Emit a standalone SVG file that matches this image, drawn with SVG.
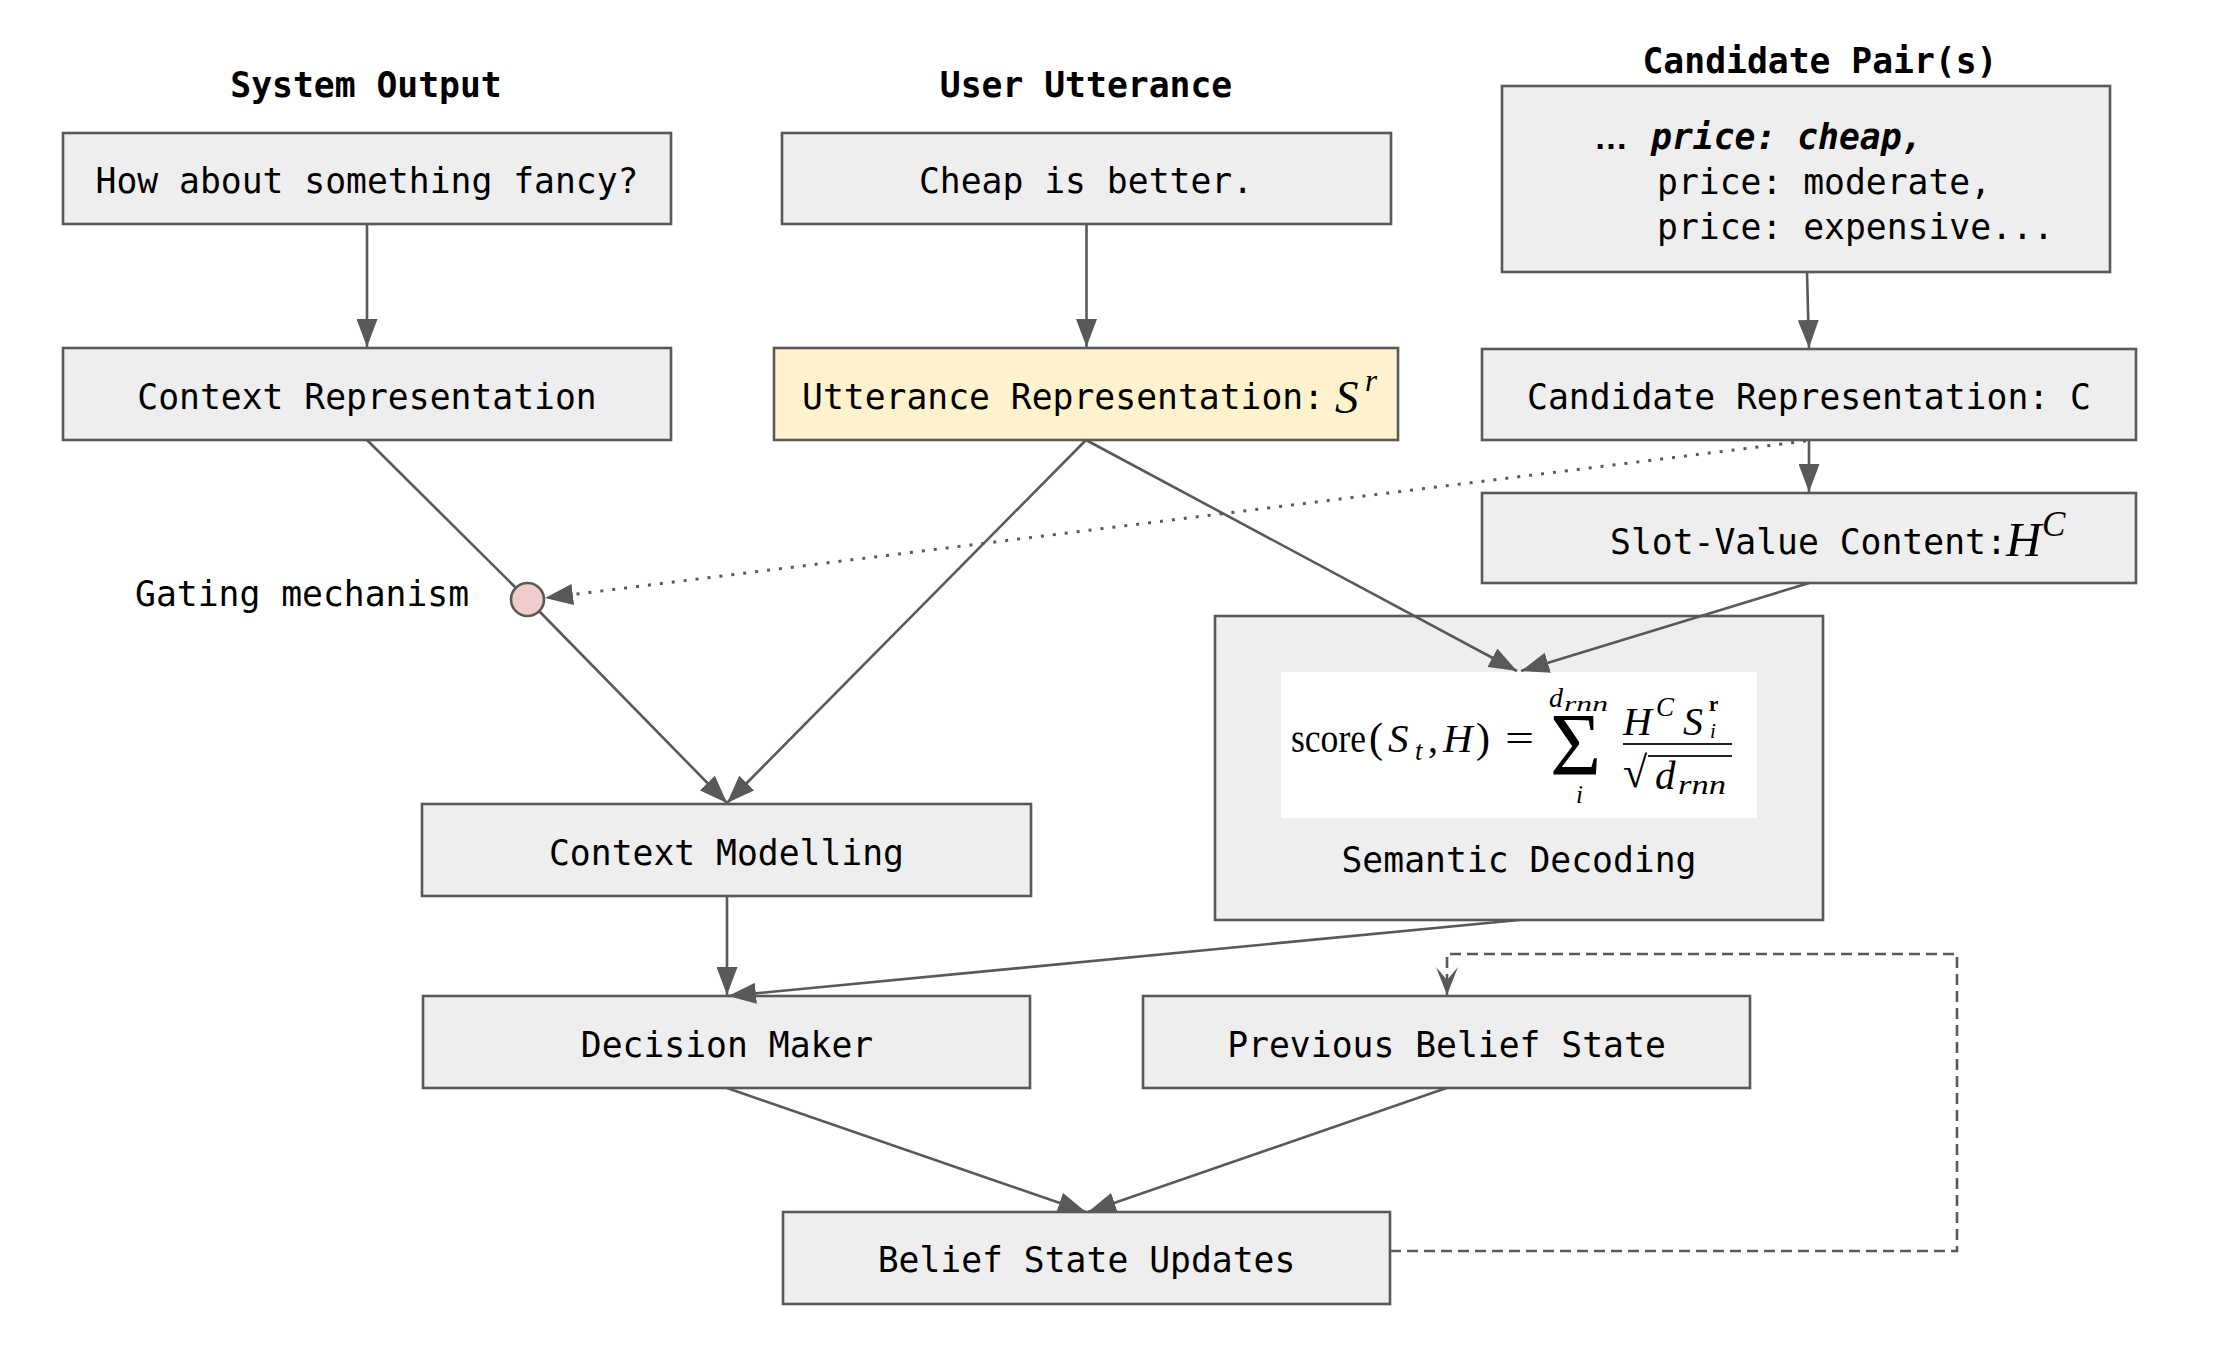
<svg xmlns="http://www.w3.org/2000/svg" width="2218" height="1346" viewBox="0 0 2218 1346">
<style>
  .box { fill: #eeeeee; stroke: #595959; stroke-width: 2.6; }
  .yel { fill: #fff2cc; stroke: #595959; stroke-width: 2.6; }
  .t { font-family: "DejaVu Sans Mono", "Liberation Mono", monospace; font-size: 34.7px; fill: #000; }
  .c { text-anchor: middle; }
  .b { font-weight: bold; }
  .m { font-family: "Liberation Serif", "DejaVu Serif", serif; fill: #000; }
  .i { font-style: italic; }
  .ln { fill: none; stroke: #595959; stroke-width: 2.6; }
  .dot { fill: none; stroke: #595959; stroke-width: 3; stroke-dasharray: 3 9; }
  .dash { fill: none; stroke: #595959; stroke-width: 2.6; stroke-dasharray: 11 6; }
</style>
<defs>
  <marker id="ah" markerUnits="userSpaceOnUse" markerWidth="28" markerHeight="21" refX="28" refY="10.5" orient="auto">
    <path d="M0,0 L28,10.5 L0,21 z" fill="#595959"/>
  </marker>
  <marker id="ahn" markerUnits="userSpaceOnUse" markerWidth="28" markerHeight="22" refX="28" refY="11" orient="auto">
    <path d="M0,0 L28,11 L0,22 L13,11 z" fill="#595959"/>
  </marker>
</defs>
<rect width="2218" height="1346" fill="#ffffff"/>

<!-- column titles -->
<g id="titles">
  <text class="t b c" x="366" y="97">System Output</text>
  <text class="t b c" x="1086" y="97">User Utterance</text>
  <text class="t b c" x="1820" y="73">Candidate Pair(s)</text>
</g>

<g id="system-output">
  <rect class="box" x="63" y="133" width="608" height="91"/>
  <text class="t c" x="367" y="193">How about something fancy?</text>
</g>
<g id="user-utterance">
  <rect class="box" x="782" y="133" width="609" height="91"/>
  <text class="t c" x="1086" y="193">Cheap is better.</text>
</g>
<g id="candidate-pairs">
  <rect class="box" x="1502" y="86" width="608" height="186"/>
  <text x="1594" y="149" font-family="Liberation Sans, Arial, sans-serif" font-size="34" font-weight="bold">…</text>
  <text class="t b i" x="1651" y="149">price: cheap,</text>
  <text class="t" x="1657" y="194">price: moderate,</text>
  <text class="t" x="1657" y="239">price: expensive...</text>
</g>
<g id="context-representation">
  <rect class="box" x="63" y="348" width="608" height="92"/>
  <text class="t c" x="367" y="409">Context Representation</text>
</g>
<g id="utterance-representation">
  <rect class="yel" x="774" y="348" width="624" height="92"/>
  <text class="t" x="802" y="409">Utterance Representation:</text>
  <text class="m i" x="1335" y="413" font-size="47">S</text>
  <text class="m i" x="1365" y="391" font-size="31">r</text>
</g>
<g id="candidate-representation">
  <rect class="box" x="1482" y="349" width="654" height="91"/>
  <text class="t c" x="1809" y="409">Candidate Representation: C</text>
</g>
<g id="slot-value-content">
  <rect class="box" x="1482" y="493" width="654" height="90"/>
  <text class="t" x="1610" y="554">Slot-Value Content:</text>
  <text class="m i" x="2006" y="556" font-size="49">H</text>
  <text class="m i" x="2042" y="536" font-size="35">C</text>
</g>
<g id="gating">
  <text class="t" x="135" y="606">Gating mechanism</text>
  <circle cx="527.5" cy="599.5" r="16.5" fill="#f0cccc" stroke="#595959" stroke-width="2.6"/>
</g>
<g id="semantic-decoding">
  <rect class="box" x="1215" y="616" width="608" height="304"/>
  <rect x="1281" y="672" width="476" height="146" fill="#ffffff"/>
  <g class="m">
    <text x="1291" y="752" font-size="40" textLength="75" lengthAdjust="spacingAndGlyphs">score</text>
    <text x="1369" y="752" font-size="42">(</text>
    <text class="i" x="1388" y="752" font-size="41">S</text>
    <text class="i" x="1415" y="760" font-size="27">t</text>
    <text x="1428" y="752" font-size="40">,</text>
    <text class="i" x="1443" y="752" font-size="41">H</text>
    <text x="1476" y="752" font-size="42">)</text>
    <text x="1505" y="752" font-size="40" textLength="29" lengthAdjust="spacingAndGlyphs">=</text>
    <text x="1550" y="774" font-size="88">Σ</text>
    <text class="i" x="1549" y="707" font-size="28">d</text>
    <text class="i" x="1564" y="711" font-size="21" textLength="44" lengthAdjust="spacingAndGlyphs">rnn</text>
    <text class="i" x="1576" y="803" font-size="25">i</text>
    <text class="i" x="1623" y="735" font-size="40">H</text>
    <text class="i" x="1656" y="716" font-size="27">C</text>
    <text class="i" x="1683" y="735" font-size="40">S</text>
    <text x="1709" y="711" font-size="21" font-weight="bold">r</text>
    <text class="i" x="1710" y="738" font-size="21">i</text>
    <text x="1623" y="787" font-size="44">√</text>
    <text class="i" x="1655" y="789" font-size="41">d</text>
    <text class="i" x="1678" y="794" font-size="28" textLength="48" lengthAdjust="spacingAndGlyphs">rnn</text>
  </g>
  <line x1="1623" y1="744" x2="1732" y2="744" stroke="#222" stroke-width="2.2"/>
  <line x1="1648" y1="756" x2="1732" y2="756" stroke="#222" stroke-width="2"/>
  <text class="t c" x="1519" y="872">Semantic Decoding</text>
</g>
<g id="context-modelling">
  <rect class="box" x="422" y="804" width="609" height="92"/>
  <text class="t c" x="726.5" y="865">Context Modelling</text>
</g>
<g id="decision-maker">
  <rect class="box" x="423" y="996" width="607" height="92"/>
  <text class="t c" x="727" y="1057">Decision Maker</text>
</g>
<g id="previous-belief-state">
  <rect class="box" x="1143" y="996" width="607" height="92"/>
  <text class="t c" x="1446.5" y="1057">Previous Belief State</text>
</g>
<g id="belief-state-updates">
  <rect class="box" x="783" y="1212" width="607" height="92"/>
  <text class="t c" x="1086.5" y="1272">Belief State Updates</text>
</g>

<g id="connectors">
  <line class="ln" x1="367" y1="224" x2="367" y2="347" marker-end="url(#ah)"/>
  <line class="ln" x1="1086.5" y1="224" x2="1086.5" y2="347" marker-end="url(#ah)"/>
  <line class="ln" x1="1807" y1="272" x2="1809" y2="348" marker-end="url(#ah)"/>
  <line class="ln" x1="1809" y1="440" x2="1809" y2="492" marker-end="url(#ah)"/>
  <line class="dot" x1="1806" y1="441" x2="545" y2="598" marker-end="url(#ah)"/>
  <line class="ln" x1="367" y1="440" x2="515.5" y2="587.5"/>
  <line class="ln" x1="539.5" y1="611.5" x2="727" y2="803" marker-end="url(#ah)"/>
  <line class="ln" x1="1086" y1="440" x2="727" y2="803" marker-end="url(#ah)"/>
  <line class="ln" x1="1086" y1="440" x2="1517" y2="671" marker-end="url(#ah)"/>
  <line class="ln" x1="1809" y1="583" x2="1521" y2="671" marker-end="url(#ah)"/>
  <line class="ln" x1="727" y1="896" x2="727" y2="995" marker-end="url(#ah)"/>
  <line class="ln" x1="1519" y1="920" x2="728" y2="996" marker-end="url(#ah)"/>
  <line class="ln" x1="727" y1="1088" x2="1086" y2="1212" marker-end="url(#ah)"/>
  <line class="ln" x1="1446.5" y1="1088" x2="1088" y2="1212" marker-end="url(#ah)"/>
  <path class="dash" d="M1390,1251 H1957 V954 H1447 V995" marker-end="url(#ahn)"/>
</g>
</svg>
